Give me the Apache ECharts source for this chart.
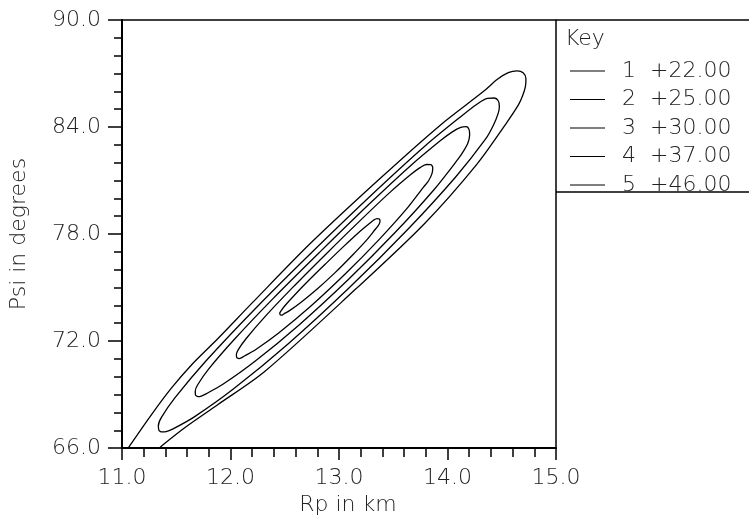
<!DOCTYPE html>
<html>
<head>
<meta charset="utf-8">
<script src="https://cdn.jsdelivr.net/npm/echarts@6/dist/echarts.min.js"></script>
<style>
  html, body { margin: 0; padding: 0; background: #fff; }
  #chart { width: 749px; height: 521px; }
</style>
</head>
<body>
<div id="chart"></div>
<script>
// key entries, outermost contour first
const levelNames = ['1  +22.00', '2  +25.00', '3  +30.00', '4  +37.00', '5  +46.00'];

// contour traces [Rp, Psi]
const contour1 = [
  [11.046, 65.886], [11.075, 66.163], [11.272, 67.879], [11.455, 69.358], [11.638, 70.648],
  [11.882, 72.126], [12.202, 74.153], [12.742, 77.508], [13.378, 81.113], [13.936, 84.120],
  [14.330, 85.986], [14.460, 86.678], [14.560, 87.049], [14.643, 87.148], [14.697, 87.038],
  [14.723, 86.705], [14.718, 86.262], [14.693, 85.764], [14.656, 85.266], [14.551, 84.291],
  [14.268, 81.894], [13.785, 78.566], [13.156, 74.928], [12.315, 70.293], [11.882, 68.433],
  [11.578, 67.143], [11.373, 66.163], [11.334, 65.941]
];
const contour2 = [
  [11.339, 67.004], [11.335, 67.243], [11.362, 67.707], [11.489, 68.825], [11.771, 70.866],
  [12.221, 73.772], [12.762, 77.050], [13.314, 80.273], [13.798, 82.965], [14.136, 84.652],
  [14.268, 85.266], [14.368, 85.609], [14.432, 85.626], [14.469, 85.460], [14.478, 85.155],
  [14.467, 84.767], [14.423, 84.103], [14.350, 83.318], [14.077, 81.215], [13.635, 78.269],
  [13.094, 74.985], [12.530, 71.835], [12.023, 69.294], [11.663, 67.735], [11.466, 67.061],
  [11.407, 66.921], [11.364, 66.905], [11.339, 67.004]
];
const contour3 = [
  [11.677, 68.959], [11.675, 69.181], [11.696, 69.537], [11.798, 70.428], [12.030, 72.060],
  [12.394, 74.395], [12.832, 77.042], [13.274, 79.655], [13.662, 81.846], [13.933, 83.229],
  [14.048, 83.743], [14.122, 83.976], [14.172, 84.020], [14.199, 83.854], [14.204, 83.549],
  [14.188, 83.106], [14.149, 82.663], [14.097, 82.202], [13.877, 80.500], [13.521, 78.112],
  [13.086, 75.452], [12.632, 72.906], [12.223, 70.851], [11.933, 69.589], [11.775, 69.042],
  [11.731, 68.920], [11.699, 68.887], [11.677, 68.959]
];
const contour4 = [
  [12.058, 71.058], [12.054, 71.229], [12.069, 71.494], [12.143, 72.131], [12.308, 73.302],
  [12.569, 74.980], [12.881, 76.885], [13.197, 78.768], [13.472, 80.351], [13.664, 81.351],
  [13.747, 81.722], [13.806, 81.899], [13.847, 81.888], [13.864, 81.722], [13.857, 81.390],
  [13.824, 80.974], [13.779, 80.633], [13.623, 79.407], [13.369, 77.688], [13.059, 75.772],
  [12.736, 73.937], [12.444, 72.456], [12.237, 71.545], [12.124, 71.146], [12.101, 71.063],
  [12.079, 71.019], [12.058, 71.058]
];
const contour5 = [
  [12.461, 73.450], [12.454, 73.566], [12.464, 73.682], [12.503, 73.997], [12.589, 74.573],
  [12.722, 75.408], [12.881, 76.357], [13.041, 77.296], [13.182, 78.089], [13.280, 78.588],
  [13.317, 78.771], [13.349, 78.865], [13.372, 78.843], [13.378, 78.704], [13.363, 78.483],
  [13.333, 78.255], [13.252, 77.646], [13.121, 76.797], [12.964, 75.837], [12.799, 74.920],
  [12.651, 74.180], [12.547, 73.721], [12.490, 73.516], [12.476, 73.455], [12.461, 73.450]
];
const contours = [contour1, contour2, contour3, contour4, contour5];

const xRange = [11, 15, 1];
const yRange = [66, 90, 6];

const font = 'DejaVu Sans';
const ink = '#222';

let myChart = echarts.init(document.getElementById('chart'));

let option = {
    animation: false,
    backgroundColor: '#fff',
    title: {
        text: 'Key',
        left: 560,
        top: 23,
        textStyle: { fontFamily: font, fontSize: 22, fontWeight: 200, color: ink }
    },
    legend: {
        orient: 'vertical',
        left: 565,
        top: 55,
        icon: 'rect',
        itemWidth: 35,
        itemHeight: 1,
        itemGap: 6.5,
        selectedMode: false,
        data: levelNames,
        textStyle: {
            fontFamily: font, fontSize: 22, fontWeight: 200, color: ink,
            lineHeight: 22, padding: [0, 0, 0, 12]
        }
    },
    grid: {
        left: 118,
        top: 20,
        right: 193,
        bottom: 67,
        show: true,
        borderColor: '#000',
        borderWidth: 1.5
    },
    xAxis: {
        type: 'value',
        min: xRange[0],
        max: xRange[1],
        interval: xRange[2],
        name: 'Rp in km',
        nameLocation: 'middle',
        nameGap: 45,
        nameTextStyle: {
            fontFamily: font, fontSize: 22, fontWeight: 200, color: ink,
            padding: [0, 0, 0, 18]
        },
        axisLine: { lineStyle: { color: '#000', width: 2 } },
        axisTick: { inside: false, length: 12, lineStyle: { color: '#000', width: 1.5 } },
        minorTick: { show: true, splitNumber: 5, length: 9, lineStyle: { color: '#000', width: 1.5 } },
        splitLine: { show: false },
        axisLabel: {
            margin: 19,
            fontFamily: font, fontSize: 22, fontWeight: 200, color: ink,
            formatter: v => v.toFixed(1)
        }
    },
    yAxis: {
        type: 'value',
        min: yRange[0],
        max: yRange[1],
        interval: yRange[2],
        name: 'Psi in degrees',
        nameLocation: 'middle',
        nameGap: 92,
        nameTextStyle: { fontFamily: font, fontSize: 22, fontWeight: 200, color: ink },
        axisLine: { lineStyle: { color: '#000', width: 2 } },
        axisTick: { inside: false, length: 14, lineStyle: { color: '#000', width: 1.5 } },
        minorTick: { show: true, splitNumber: 6, length: 8, lineStyle: { color: '#000', width: 1.5 } },
        splitLine: { show: false },
        axisLabel: {
            margin: 21,
            fontFamily: font, fontSize: 22, fontWeight: 200, color: ink,
            formatter: v => v.toFixed(1)
        }
    },
    // key box: top edge carried on past the plot and bottom edge
    graphic: [
        { type: 'line', shape: { x1: 556, y1: 20, x2: 749, y2: 20 }, style: { stroke: '#000', lineWidth: 1.5 } },
        { type: 'line', shape: { x1: 556, y1: 192, x2: 749, y2: 192 }, style: { stroke: '#000', lineWidth: 1.5 } }
    ],
    series: contours.map((pts, i) => ({
        name: levelNames[i],
        type: 'line',
        data: pts,
        showSymbol: false,
        symbol: 'none',
        smooth: 0.3,
        clip: true,
        color: '#000',
        lineStyle: { color: '#000', width: 1.3 }
    }))
};

myChart.setOption(option);
window.addEventListener('resize', function () {
    myChart.resize();
});
</script>
</body>
</html>
